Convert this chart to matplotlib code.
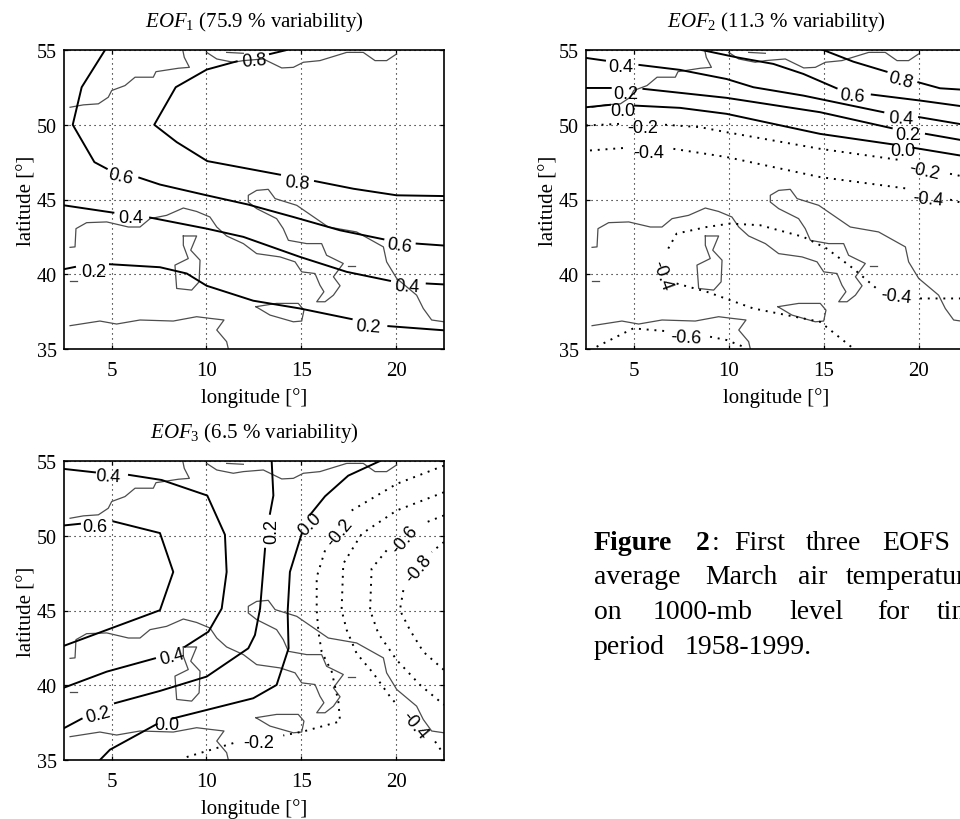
# -*- coding: utf-8 -*-
import matplotlib
matplotlib.use("Agg")
import matplotlib.pyplot as plt

nan = float("nan")

plt.rcParams["font.family"] = ["Liberation Serif", "DejaVu Serif"]
plt.rcParams["mathtext.fontset"] = "custom"
plt.rcParams["mathtext.rm"] = "Liberation Serif"
plt.rcParams["mathtext.it"] = "Liberation Serif:italic"

# coastline (lon, lat)
coast_a_lon = [2.82, 3.52, 4.31, 4.83, 5.01, 5.71, 6.24, 7.2, 7.34, 8.52, 9.1, 8.83, 8.75]
coast_a_lat = [51.17, 51.33, 51.4, 51.84, 52.29, 52.62, 53.18, 53.18, 53.55, 53.78, 53.84, 54.51, 55.0]
coast_b_lon = [10.01, 10.54, 11.41, 11.94, 12.99, 13.96, 14.57, 15.1, 15.97, 17.38, 18.25, 18.87, 19.48, 20.0]
coast_b_lat = [54.84, 54.4, 54.18, 54.29, 54.4, 53.8, 53.84, 54.18, 54.29, 54.84, 54.84, 54.29, 54.29, 54.73]
coast_c_lon = [11.06, 11.94]
coast_c_lat = [54.84, 54.78]
coast_d_lon = [2.82, 3.08, 3.13, 3.69, 4.75, 5.89, 6.5, 7.03, 7.9, 8.78, 9.48, 10.18, 10.54, 11.06, 11.94, 12.64,
               13.87, 14.66, 15.01, 15.71, 15.97, 16.18, 15.8, 16.24, 16.68, 17.03, 16.68, 17.2, 16.32, 16.06,
               15.27, 14.31, 14.04, 13.69, 12.64, 12.2, 12.2, 12.64, 13.25, 13.61, 14.75, 16.41, 17.9, 19.31,
               19.48, 20.01, 21.06, 21.41, 21.85, 22.5]
coast_d_lat = [41.8, 41.83, 43.05, 43.45, 43.5, 43.16, 43.16, 43.72, 43.94, 44.43, 44.2, 43.83, 43.16, 42.56, 42.05,
               41.38, 41.16, 40.83, 40.16, 40.05, 39.27, 38.83, 38.16, 38.16, 38.6, 39.23, 39.83, 40.72, 41.27,
               42.05, 42.05, 42.27, 43.05, 43.72, 44.39, 44.83, 45.28, 45.61, 45.68, 45.06, 44.61, 43.16, 42.83,
               41.83, 40.83, 39.72, 38.6, 37.71, 36.94, 36.82]
sardinia_lon = [8.78, 9.48, 9.17, 9.66, 9.61, 9.22, 8.43, 8.34, 9.04, 8.78, 8.78]
sardinia_lat = [42.56, 42.56, 41.61, 40.94, 39.49, 38.94, 39.05, 40.61, 41.05, 41.94, 42.56]
sicily_lon = [12.6, 13.69, 14.83, 15.13, 15.01, 14.57, 13.34, 12.6]
sicily_lat = [37.83, 38.05, 38.05, 37.6, 36.87, 36.82, 37.27, 37.83]
africa_lon = [2.82, 4.39, 5.27, 6.5, 8.25, 9.48, 10.18, 10.92, 10.54, 11.06, 11.15]
africa_lat = [36.56, 36.87, 36.67, 36.94, 36.87, 37.16, 37.05, 36.94, 36.27, 35.49, 35.0]
balearic_lon = [2.82, 3.2]
balearic_lat = [39.52, 39.52]
ionian_lon = [17.47, 17.8]
ionian_lat = [40.54, 40.54]

# EOF1 contours, nan = gap for the label
e1_02_lon = [2.5, 3.08, nan, 4.92, 7.55, 8.96, 10.01, 12.46, 14.92, 17.64, nan, 19.57, 22.5]
e1_02_lat = [40.34, 40.49, nan, 40.67, 40.47, 40.05, 39.23, 38.23, 37.71, 37.0, nan, 36.53, 36.25]
e1_04_lon = [2.5, 5.1, nan, 7.03, 10.01, 11.94, 14.92, 17.38, 19.66, nan, 21.59, 22.5]
e1_04_lat = [44.61, 44.12, nan, 43.79, 43.05, 42.5, 41.16, 40.16, 39.56, nan, 39.38, 39.32]
e1_06_lon = [4.66, 3.43, 2.96, 4.1, 4.75, nan, 6.46, 7.55, 10.01, 12.2, 14.57, 17.03, 19.31, nan, 21.06, 22.5]
e1_06_lat = [55.0, 52.51, 50.0, 47.5, 47.06, nan, 46.46, 46.0, 45.28, 44.66, 43.83, 42.94, 42.34, nan, 42.05, 41.92]
e1_08_lon = [14.22, 13.34, nan, 11.59, 10.01, 8.38, 7.25, 8.43, 10.04, 13.87, nan, 15.71, 17.73, 20.01, 22.5]
e1_08_lat = [55.0, 54.73, nan, 54.24, 53.69, 52.51, 50.0, 48.84, 47.57, 46.66, nan, 46.23, 45.72, 45.28, 45.23]
e1_txt = ["0.2", "0.2", "0.4", "0.4", "0.6", "0.6", "0.8", "0.8"]
e1_txt_lon = [4.04, 18.52, 6.01, 20.57, 5.48, 20.13, 12.52, 14.75]
e1_txt_lat = [40.21, 36.49, 43.77, 39.23, 46.55, 41.94, 54.33, 46.12]
e1_txt_rot = [0, -4, 0, -3, -12, -8, 5, -5]

# EOF2 contours
e2_08_lon = [14.99, 16.57, 18.32, nan, 19.99, 21.13, 22.5]
e2_08_lat = [55.0, 54.22, 53.55, nan, 52.84, 52.44, 52.33]
e2_06_lon = [8.59, 10.43, 12.36, 13.94, 15.69, nan, 17.54, 20.08, 22.5]
e2_06_lat = [55.0, 54.51, 54.07, 53.4, 52.44, nan, 52.02, 51.62, 51.2]
e2_04_lon = [2.5, 3.5, nan, 5.31, 7.45, 9.9, 11.31, 13.94, 18.15, nan, 20.03, 22.5]
e2_04_lat = [54.47, 54.29, nan, 54.0, 53.67, 53.06, 52.51, 51.95, 50.84, nan, 50.51, 49.98]
e2_02_lon = [2.5, 3.8, nan, 5.52, 9.9, 14.82, 18.59, nan, 20.39, 22.5]
e2_02_lat = [52.46, 52.46, nan, 52.4, 51.8, 50.84, 49.77, nan, 49.39, 48.92]
e2_00_lon = [2.5, 3.76, nan, 5.08, 7.45, 9.9, 14.82, 18.68, nan, 19.73, 22.5]
e2_00_lat = [51.17, 51.33, nan, 51.28, 51.13, 50.73, 49.39, 48.68, nan, 48.46, 47.88]
e2_m02_lon = [2.5, 4.29, nan, 6.66, 8.5, 9.9, 14.82, 19.2, nan, 21.66, 22.5]
e2_m02_lat = [49.95, 50.06, nan, 50.0, 49.84, 49.5, 48.39, 47.61, nan, 46.72, 46.5]
e2_m04a_lon = [2.71, 4.64, nan, 7.1, 9.9, 14.82, 19.46, nan, 21.66, 22.5]
e2_m04a_lat = [48.28, 48.46, nan, 48.39, 47.84, 46.5, 45.72, nan, 44.99, 44.7]
e2_m04b_lon = [6.83, 7.27, 8.85, 10.08, 11.66, 13.94, 15.17, 16.57, 17.89, nan, 20.08, 22.5]
e2_m04b_lat = [41.72, 42.72, 43.16, 43.39, 43.28, 42.5, 41.72, 40.38, 38.94, nan, 38.38, 38.38]
e2_m04c_lon = [7.27, 8.85, 11.31, 14.82, 16.6]
e2_m04c_lat = [39.38, 38.83, 37.71, 36.82, 35.0]
e2_m06_lon = [3.06, 4.99, 6.66, nan, 9.03, 9.9, 10.78]
e2_m06_lat = [35.15, 36.38, 36.2, nan, 35.82, 35.6, 35.15]
e2_txt = ["0.8", "0.6", "0.4", "0.4", "0.2", "0.2", "0.0", "0.0", "-0.2", "-0.2",
          "-0.4", "-0.4", "-0.4", "-0.4", "-0.6"]
e2_txt_lon = [19.06, 16.52, 4.34, 19.08, 4.61, 19.43, 4.43, 19.2, 5.46, 20.29, 5.78, 20.52, 18.8, 6.48, 7.75]
e2_txt_lat = [53.0, 51.95, 53.89, 50.44, 52.11, 49.33, 50.95, 48.28, 49.79, 46.9, 48.13, 45.06, 38.54, 39.94, 35.78]
e2_txt_rot = [-15, -5, 0, -3, 0, 0, 0, 0, 0, -12, 0, -5, -6, -70, -3]

# EOF3 contours
e3_06_lon = [2.5, 3.34, nan, 5.1, 7.55, 8.25, 7.55, 2.5]
e3_06_lat = [50.69, 50.8, nan, 50.96, 50.18, 47.58, 45.02, 42.64]
e3_04_lon = [2.5, 4.13, nan, 5.92, 7.64, 10.04, 10.97, 11.06, 10.8, 10.1, 8.87, nan, 7.29, 4.75, 2.5]
e3_04_lat = [54.47, 54.24, nan, 54.07, 53.73, 52.69, 50.07, 47.58, 45.13, 43.58, 42.58, nan, 41.8, 40.91, 39.84]
e3_02_lon = [13.43, 13.52, 13.34, nan, 13.08, 12.82, 12.55, 12.2, 10.01, 7.55, 5.18, nan, 3.43, 2.5]
e3_02_lat = [55.0, 52.69, 51.47, nan, 49.13, 45.13, 43.36, 42.47, 40.58, 39.62, 38.8, nan, 37.76, 37.13]
e3_00_lon = [19.13, 17.46, 16.24, 15.45, nan, 15.01, 14.39, 14.27, 14.32, 13.69, 12.46, 8.17, nan, 7.38, 4.92, 4.39]
e3_00_lat = [55.0, 54.02, 52.64, 51.4, nan, 50.13, 47.58, 44.91, 42.47, 40.02, 39.13, 37.76, nan, 37.4, 35.69, 35.0]
e3_m02_lon = [22.5, 20.01, 17.64, nan, 16.24, 15.8, 15.8, 15.89, 16.06, 16.59, 16.94, 17.03, 15.1, 14.04, nan, 11.41, 8.78]
e3_m02_lat = [54.69, 53.47, 51.69, nan, 49.02, 47.24, 45.02, 43.58, 42.24, 40.91, 38.91, 37.58, 36.91, 36.64, nan, 36.13, 35.13]
e3_m04_lon = [22.5, 20.01, 18.17, 17.2, 17.11, 17.38, 17.9, 18.78, 19.66, 20.1, nan, 22.03, 22.5]
e3_m04_lat = [52.91, 51.69, 50.13, 48.13, 45.02, 43.69, 42.13, 40.8, 39.24, 38.58, nan, 36.24, 35.36]
e3_m06_lon = [22.5, 21.59, nan, 19.48, 18.69, 18.61, 19.04, 20.01, 21.24, 22.5]
e3_m06_lat = [51.36, 50.91, nan, 49.02, 47.8, 45.02, 43.47, 41.69, 40.02, 38.69]
e3_m08_lon = [22.5, 21.85, nan, 20.36, 20.18, 20.71, 21.41, 22.5]
e3_m08_lat = [49.58, 48.91, nan, 46.36, 45.02, 43.69, 42.24, 41.02]
e3_txt = ["0.6", "0.4", "0.4", "0.2", "0.2", "0.0", "0.0", "-0.2", "-0.2", "-0.4", "-0.6", "-0.8"]
e3_txt_lon = [4.13, 4.81, 8.17, 13.43, 4.31, 15.45, 7.9, 17.03, 12.73, 20.97, 20.45, 21.15]
e3_txt_lat = [50.64, 54.0, 41.91, 50.36, 38.02, 50.8, 37.36, 50.24, 36.18, 37.36, 49.8, 47.8]
e3_txt_rot = [0, -3, 15, 90, 15, 45, 0, 50, 0, -50, 50, 50]

xticks = [5, 10, 15, 20]
yticks = [35, 40, 45, 50, 55]

W, H = 960.0, 820.0
fig = plt.figure(figsize=(9.6, 8.2), dpi=100)


def panel(left, top, title, solid, dotted, txt, txt_lon, txt_lat, txt_rot):
    ax = fig.add_axes([left / W, 1 - (top + 299) / H, 380 / W, 299 / H])
    ax.set_xlim(2.5, 22.5)
    ax.set_ylim(35, 55)
    ax.set_xticks(xticks)
    ax.set_yticks(yticks)
    ax.tick_params(direction="in", length=3, width=0.9, top=True, right=True, labelsize=15)
    ax.tick_params(axis="x", pad=9)
    ax.tick_params(axis="y", pad=5, labelsize=14.5)
    ax.grid(True, color="black", linestyle=(0, (1, 3.5)), linewidth=0.8)
    ax.set_axisbelow(True)
    for s in ax.spines.values():
        s.set_linewidth(1.2)

    # coastline
    for c in coasts:
        ax.plot(c[0], c[1], color="#4d4d4d", linewidth=0.9, zorder=2)
    for c in solid:
        ax.plot(c[0], c[1], color="black", linewidth=1.4, zorder=3)
    for c in dotted:
        ax.plot(c[0], c[1], color="black", linewidth=1.4, linestyle=(0, (1, 3)), zorder=3)
    for i in range(len(txt)):
        ax.text(txt_lon[i], txt_lat[i], txt[i], rotation=txt_rot[i], ha="center", va="center",
                fontsize=13, family="Liberation Sans", zorder=4)

    ax.set_xlabel(u"longitude [°]", fontsize=15, labelpad=5)
    ax.set_ylabel(u"latitude [°]", fontsize=15, labelpad=0)
    ax.set_title(title, fontsize=15, pad=17)
    return ax


coasts = [(coast_a_lon, coast_a_lat), (coast_b_lon, coast_b_lat), (coast_c_lon, coast_c_lat),
          (coast_d_lon, coast_d_lat), (sardinia_lon, sardinia_lat), (sicily_lon, sicily_lat),
          (africa_lon, africa_lat), (balearic_lon, balearic_lat), (ionian_lon, ionian_lat)]

panel(64, 51, r"$\mathit{EOF}_1$ (75.9 % variability)",
      [(e1_02_lon, e1_02_lat), (e1_04_lon, e1_04_lat), (e1_06_lon, e1_06_lat), (e1_08_lon, e1_08_lat)], [],
      e1_txt, e1_txt_lon, e1_txt_lat, e1_txt_rot)

panel(586, 51, r"$\mathit{EOF}_2$ (11.3 % variability)",
      [(e2_08_lon, e2_08_lat), (e2_06_lon, e2_06_lat), (e2_04_lon, e2_04_lat), (e2_02_lon, e2_02_lat),
       (e2_00_lon, e2_00_lat)],
      [(e2_m02_lon, e2_m02_lat), (e2_m04a_lon, e2_m04a_lat), (e2_m04b_lon, e2_m04b_lat),
       (e2_m04c_lon, e2_m04c_lat), (e2_m06_lon, e2_m06_lat)],
      e2_txt, e2_txt_lon, e2_txt_lat, e2_txt_rot)

panel(64, 462, r"$\mathit{EOF}_3$ (6.5 % variability)",
      [(e3_06_lon, e3_06_lat), (e3_04_lon, e3_04_lat), (e3_02_lon, e3_02_lat), (e3_00_lon, e3_00_lat)],
      [(e3_m02_lon, e3_m02_lat), (e3_m04_lon, e3_m04_lat), (e3_m06_lon, e3_m06_lat), (e3_m08_lon, e3_m08_lat)],
      e3_txt, e3_txt_lon, e3_txt_lat, e3_txt_rot)

# caption, word by word because the original is justified
caption = [("Figure", 594, 550, "bold"), ("2", 696, 550, "bold"), (":", 712, 550, "normal"),
           ("First", 734, 550, "normal"), ("three", 806, 550, "normal"), ("EOFS", 882, 550, "normal"),
           ("average", 594, 584, "normal"), ("March", 705, 584, "normal"), ("air", 798, 584, "normal"),
           ("temperature", 846, 584, "normal"),
           ("on", 594, 619, "normal"), ("1000-mb", 653, 619, "normal"), ("level", 789, 619, "normal"),
           ("for", 877, 619, "normal"), ("time", 937, 619, "normal"),
           ("period", 594, 654, "normal"), ("1958-1999.", 685, 654, "normal")]
for word, x, y, w in caption:
    fig.text(x / W, 1 - y / H, word, fontsize=20, fontweight=w, va="baseline")

plt.savefig("out.png", dpi=100)
